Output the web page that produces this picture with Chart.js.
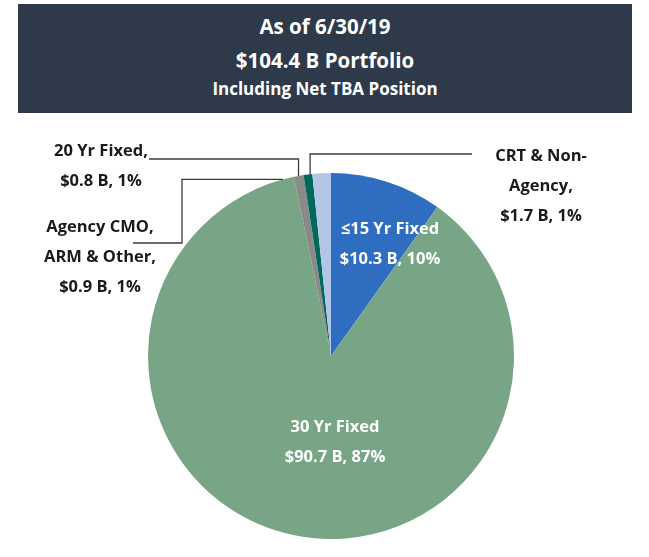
<!DOCTYPE html>
<html>
<head>
<meta charset="utf-8">
<script src="https://cdn.jsdelivr.net/npm/chart.js@4.4.0/dist/chart.umd.min.js"></script>
<style>
  body { margin: 0; background: #fff; }
  #wrap { position: relative; width: 649px; height: 557px; }
  #header {
    position: absolute; left: 18px; top: 4px; width: 614px; height: 109px;
    background: #2e3a4a; color: #fff; text-align: center;
    font-family: 'Open Sans', sans-serif; font-weight: bold;
  }
  #header div { position: absolute; left: 0; right: 0; line-height: 1.36; }
  #chart { position: absolute; left: 0; top: 0; }
</style>
</head>
<body>
<div id="wrap">
  <canvas id="chart" width="649" height="557"></canvas>
  <div id="header">
    <div style="top:9px;font-size:20.5px;">As of 6/30/19</div>
    <div style="top:43px;font-size:20.5px;">$104.4 B Portfolio</div>
    <div style="top:73px;font-size:17px;">Including Net TBA Position</div>
  </div>
</div>
<script>
// Data
const categories = ['≤15 Yr Fixed', '30 Yr Fixed', 'Agency CMO, ARM & Other', '20 Yr Fixed', 'CRT & Non-Agency'];
const values = [10.3, 90.7, 0.9, 0.8, 1.7];
const percents = [10, 87, 1, 1, 1];
const colors = ['#2e6dbf', '#77a586', '#8a8a8a', '#00695c', '#b4c6e7'];

// Label layout (text lines, centres, leader lines)
const insideLabels = [
  { index: 0, lines: ['≤15 Yr Fixed', '$10.3 B, 10%'], x: 390, y: 229 },
  { index: 1, lines: ['30 Yr Fixed', '$90.7 B, 87%'], x: 335, y: 427 }
];
const outsideLabels = [
  { index: 3, lines: ['20 Yr Fixed,', '$0.8 B, 1%'], x: 101, y: 151, shift: -1.6,
    path: (p) => [[149, 159], [p.x, 159], [p.x, p.y]] },
  { index: 2, lines: ['Agency CMO,', 'ARM & Other,', '$0.9 B, 1%'], x: 100, y: 227, shift: -3.5,
    path: (p) => [[133, 243], [182, 243], [182, p.y], [p.x, p.y]] },
  { index: 4, lines: ['CRT & Non-', 'Agency,', '$1.7 B, 1%'], x: 541, y: 156, shift: -0.7,
    path: (p) => [[472, 154], [p.x, 154], [p.x, p.y]] }
];

const labelPlugin = {
  id: 'labelPlugin',
  afterDraw(chart) {
    const ctx = chart.ctx;
    const arcs = chart.getDatasetMeta(0).data;
    ctx.save();
    ctx.font = "bold 16.5px 'Open Sans', sans-serif";
    ctx.textAlign = 'center';
    ctx.textBaseline = 'middle';

    ctx.fillStyle = '#ffffff';
    insideLabels.forEach(l => {
      l.lines.forEach((t, i) => ctx.fillText(t, l.x, l.y + i * 30));
    });

    ctx.fillStyle = '#1a1a1a';
    ctx.strokeStyle = '#3c3c3c';
    ctx.lineWidth = 1.3;
    outsideLabels.forEach(l => {
      l.lines.forEach((t, i) => ctx.fillText(t, l.x, l.y + i * 30));
      const arc = arcs[l.index];
      const a = arc.startAngle + l.shift * Math.PI / 180;
      const p = { x: arc.x + arc.outerRadius * Math.cos(a), y: arc.y + arc.outerRadius * Math.sin(a) };
      const pts = l.path(p);
      ctx.beginPath();
      ctx.moveTo(pts[0][0], pts[0][1]);
      for (let i = 1; i < pts.length; i++) ctx.lineTo(pts[i][0], pts[i][1]);
      ctx.stroke();
    });
    ctx.restore();
  }
};

new Chart(document.getElementById('chart').getContext('2d'), {
  type: 'pie',
  data: {
    labels: categories,
    datasets: [{
      data: values,
      backgroundColor: colors,
      borderWidth: 0
    }]
  },
  options: {
    responsive: false,
    animation: false,
    layout: { padding: { top: 173, bottom: 18, left: 148, right: 135 } },
    plugins: { legend: { display: false }, tooltip: { enabled: false } }
  },
  plugins: [labelPlugin]
});
</script>
</body>
</html>
